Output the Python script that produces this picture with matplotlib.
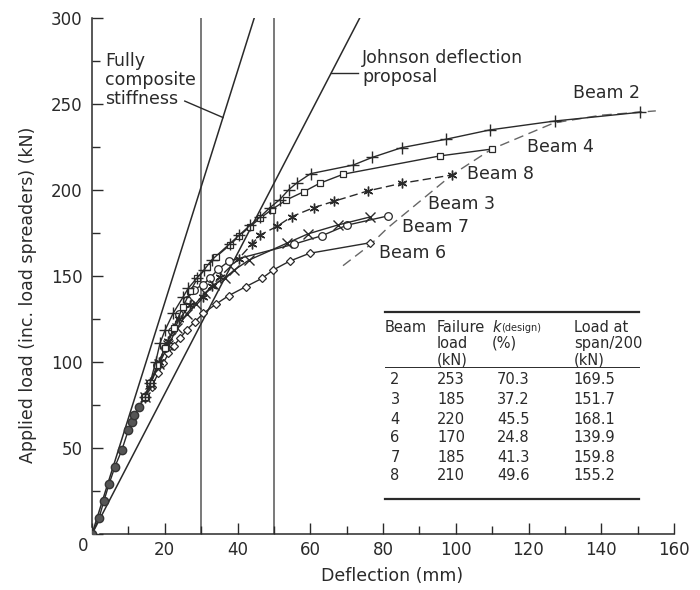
import matplotlib
matplotlib.use("Agg")
import matplotlib.pyplot as plt
from matplotlib.lines import Line2D
import numpy as np

plt.rcParams['font.family'] = ['DejaVu Sans']

INK = '#2a2a2a'

# ---- data ----
# common initial loading path (markers of all beams overlap)
initial_x = [0.0, 1.9, 3.3, 4.7, 6.3, 8.2, 10.0, 11.0, 11.6, 13.0, 14.6]
initial_y = [0.0, 9.1, 19.4, 29.1, 39.1, 48.8, 60.5, 65.3, 69.2, 74.0, 79.8]

beam2_x = [14.6, 16.0, 17.5, 18.7, 20.1, 22.3, 25.1, 26.5, 28.8, 30.8, 32.9, 37.9, 40.5, 43.4, 46.2,
           48.9, 51.6, 54.1, 56.3, 60.1, 71.8, 77.1, 85.1, 97.3, 109.3, 127.2, 150.7]
beam2_y = [79.8, 88.0, 100.0, 111.0, 118.6, 128.3, 138.0, 143.0, 148.7, 153.5, 159.3, 168.8, 173.8,
           179.4, 184.3, 189.7, 194.4, 200.2, 204.1, 209.5, 214.5, 219.0, 224.6, 229.5, 234.9, 240.1, 245.2]

beam4_x = [14.6, 16.0, 18.0, 20.0, 22.5, 25.0, 27.0, 29.0, 31.5, 34.0, 37.9, 40.5, 43.4, 46.2, 49.4,
           53.4, 58.2, 62.6, 69.1, 95.6, 109.9]
beam4_y = [79.8, 88.0, 98.0, 108.0, 120.0, 132.0, 141.0, 148.7, 155.0, 161.0, 168.0, 173.3, 178.7,
           183.5, 188.6, 194.2, 199.0, 203.9, 209.2, 219.8, 223.8]

beam8_x = [14.6, 16.0, 18.5, 21.0, 24.0, 27.0, 30.5, 32.9, 35.2, 40.3, 43.9, 46.2, 50.8, 54.9, 60.9,
           66.6, 75.9, 85.1, 98.9]
beam8_y = [79.8, 87.0, 100.0, 112.0, 125.0, 133.0, 138.0, 144.0, 149.6, 160.0, 168.5, 173.8, 178.8,
           184.5, 189.7, 193.5, 199.5, 203.9, 208.7]

beam3_x = [14.6, 16.0, 18.0, 20.0, 22.0, 24.0, 26.0, 28.0, 30.5, 32.4, 34.7, 37.7, 55.5, 63.3, 70.0, 81.3]
beam3_y = [79.8, 88.0, 98.0, 108.0, 118.0, 128.0, 136.0, 142.0, 145.0, 148.7, 153.9, 158.7, 168.5,
           173.5, 179.5, 184.9]

beam7_x = [14.6, 16.0, 18.5, 21.0, 23.5, 26.0, 28.5, 31.0, 33.5, 36.5, 39.1, 43.2, 53.5, 59.4, 67.5, 76.4]
beam7_y = [79.8, 87.0, 99.0, 110.0, 120.0, 128.0, 134.0, 140.0, 145.0, 148.7, 153.5, 159.3, 169.0,
           174.5, 179.6, 184.3]

beam6_x = [14.6, 16.4, 18.2, 19.6, 21.0, 22.5, 24.2, 26.0, 28.3, 30.6, 34.1, 37.6, 42.3, 46.8, 49.8,
           54.3, 59.8, 76.4]
beam6_y = [79.8, 85.6, 93.4, 99.2, 105.0, 109.5, 113.8, 118.6, 123.4, 128.3, 133.7, 138.6, 143.8,
           148.7, 153.5, 158.6, 163.2, 169.3]

# failure envelope (dashed)
envelope_x = [69.0, 76.4, 81.3, 98.9, 109.9, 127.0, 140.0, 155.0]
envelope_y = [156.0, 168.0, 178.0, 208.7, 223.8, 239.0, 243.5, 246.0]

# reference lines
composite_x = [0.0, 44.6]
composite_y = [0.0, 300.0]
johnson_x = [0.0, 73.6]
johnson_y = [0.0, 300.0]
span200_x = [30.0, 50.0]

# ticks
x_major = [0, 20, 40, 60, 80, 100, 120, 140, 160]
x_minor = [10, 30, 50, 70, 90, 110, 130, 150]
y_major = [0, 50, 100, 150, 200, 250, 300]
y_minor = [25, 75, 125, 175, 225, 275]

# table
table_beams = ['2', '3', '4', '6', '7', '8']
table_failure = ['253', '185', '220', '170', '185', '210']
table_k = ['70.3', '37.2', '45.5', '24.8', '41.3', '49.6']
table_load = ['169.5', '151.7', '168.1', '139.9', '159.8', '155.2']

# ---- figure ----
W, H = 700, 590
fig = plt.figure(figsize=(W / 100, H / 100), dpi=100)
ax = fig.add_axes([92 / W, 1 - 534 / H, 582 / W, 516 / H])

for s in ['top', 'right']:
    ax.spines[s].set_visible(False)
ax.spines['left'].set_bounds(4, 300)
ax.spines['bottom'].set_bounds(2.2, 160)
for s in ['left', 'bottom']:
    ax.spines[s].set_color(INK)
    ax.spines[s].set_linewidth(1.1)

ax.set_xticks(x_major)
ax.set_xticks(x_minor, minor=True)
ax.set_yticks(y_major)
ax.set_yticks(y_minor, minor=True)
ax.set_xticklabels(['' if v == 0 else str(v) for v in x_major])
ax.set_yticklabels(['' if v == 0 else str(v) for v in y_major])
ax.tick_params(which='both', direction='in', color=INK, width=1.0, labelcolor=INK, labelsize=12)
ax.tick_params(which='major', length=8)
ax.tick_params(which='minor', length=5.5)
ax.tick_params(axis='x', pad=5)
ax.tick_params(axis='y', pad=7)
ax.set_xlim(0, 160)
ax.set_ylim(0, 300)
fig.text(83 / W, 1 - 546 / H, '0', ha='center', va='center', fontsize=12, color=INK)

ax.set_xlabel('Deflection (mm)', fontsize=12.5, color=INK)
ax.set_ylabel('Applied load (inc. load spreaders) (kN)', fontsize=12.5, color=INK)
ax.xaxis.set_label_coords((392 - 92) / 582, (534 - 576) / 516)
ax.yaxis.set_label_coords((28 - 92) / 582, (534 - 295) / 516)
ax.xaxis.label.set_va('center')
ax.yaxis.label.set_va('center')

# reference lines
for xv in span200_x:
    ax.axvline(xv, color='#555555', lw=1.1, zorder=1)
ax.plot(composite_x, composite_y, color=INK, lw=1.1, zorder=2)
ax.plot(johnson_x, johnson_y, color=INK, lw=1.1, zorder=2)

# envelope
ax.plot(envelope_x, envelope_y, color='#666666', lw=1.0, ls=(0, (7, 4)), zorder=2)

# beams
mk = dict(color=INK, lw=1.0, zorder=4)
ax.plot(initial_x, initial_y, marker='o', ms=6, mfc='#555555', mec='#333333', **mk)
ax.plot(beam6_x, beam6_y, marker='D', ms=4.5, mfc='white', mec=INK, mew=0.9, **mk)
ax.plot(beam3_x, beam3_y, marker='o', ms=5.5, mfc='white', mec=INK, mew=0.9, **mk)
ax.plot(beam7_x, beam7_y, marker='x', ms=7, mec=INK, mew=1.0, **mk)
ax.plot(beam8_x, beam8_y, marker=(6, 2, 0), ms=7, mec=INK, mew=1.0, ls=(0, (6, 3)), color=INK,
        lw=1.0, zorder=4)
ax.plot(beam4_x, beam4_y, marker='s', ms=4.5, mfc='white', mec=INK, mew=0.9, **mk)
ax.plot(beam2_x, beam2_y, marker='+', ms=8, mec=INK, mew=1.0, **mk)

# beam labels (left x, centre y) in data units
labels = [('Beam 2', 132.1, 256.4), ('Beam 4', 119.5, 225.0), ('Beam 8', 103.0, 209.3),
          ('Beam 3', 92.3, 191.9), ('Beam 7', 85.2, 178.5), ('Beam 6', 78.9, 163.4)]
for t, x, y in labels:
    ax.text(x, y, t, fontsize=12.5, color=INK, ha='left', va='center')

# annotations
comp_slope = composite_y[1] / composite_x[1]
ax.plot([25.5, 36.0], [251.7, comp_slope * 36.0], color=INK, lw=1.0)
ax.text(3.6, 280, 'Fully\ncomposite\nstiffness', fontsize=12.5, color=INK, ha='left', va='top',
        linespacing=1.05)
john_slope = johnson_y[1] / johnson_x[1]
ax.plot([268 / john_slope, 73.1], [268, 268], color=INK, lw=1.0)
ax.text(74.2, 282, 'Johnson deflection\nproposal', fontsize=12.5, color=INK, ha='left', va='top',
        linespacing=1.05)

# table
def P(x, y):
    return (x / W, 1 - y / H)

for y, lw in [(312, 1.6), (367, 0.7), (499, 1.6)]:
    fig.add_artist(Line2D([385 / W, 639 / W], [1 - y / H, 1 - y / H], color=INK, lw=lw))

tfs = 10.5
fig.text(*P(385, 327), 'Beam', fontsize=tfs, color=INK, va='center', ha='left')
for i, t in enumerate(['Failure', 'load', '(kN)']):
    fig.text(*P(437, 327 + 16.5 * i), t, fontsize=tfs, color=INK, va='center', ha='left')
fig.text(*P(492, 327), 'k', fontsize=tfs, style='italic', color=INK, va='center', ha='left')
fig.text(*P(501, 328), '(design)', fontsize=7, color=INK, va='center', ha='left')
fig.text(*P(492, 343.5), '(%)', fontsize=tfs, color=INK, va='center', ha='left')
for i, t in enumerate(['Load at', 'span/200', '(kN)']):
    fig.text(*P(574, 327 + 16.5 * i), t, fontsize=tfs, color=INK, va='center', ha='left')

row_y = [380, 399.5, 419, 438, 457, 475.5]
for yy, b, f, k, l in zip(row_y, table_beams, table_failure, table_k, table_load):
    fig.text(*P(395, yy), b, fontsize=tfs, color=INK, va='center', ha='center')
    fig.text(*P(437, yy), f, fontsize=tfs, color=INK, va='center', ha='left')
    fig.text(*P(497, yy), k, fontsize=tfs, color=INK, va='center', ha='left')
    fig.text(*P(573, yy), l, fontsize=tfs, color=INK, va='center', ha='left')

fig.savefig('out.png', dpi=100, facecolor='white')
